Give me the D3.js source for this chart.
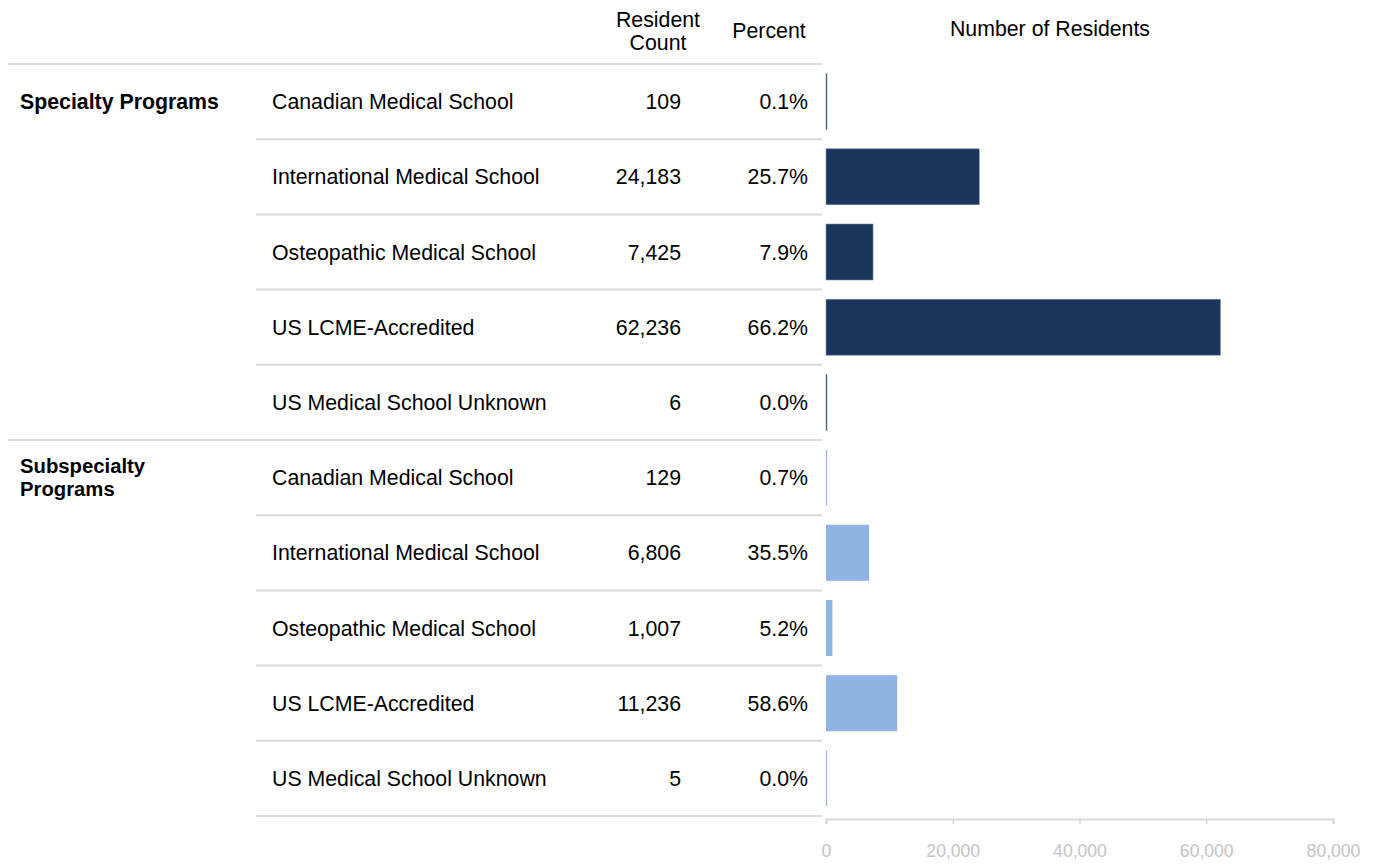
<!DOCTYPE html>
<html>
<head>
<meta charset="utf-8">
<script src="https://cdn.jsdelivr.net/npm/d3@7"></script>
<style>
  html, body { margin: 0; padding: 0; background: #fff; }
  svg { display: block; font-family: "Liberation Sans", Arial, sans-serif; }
</style>
</head>
<body>
<svg id="chart" width="1374" height="865"></svg>
<script>
// Residents by medical school type, grouped by program kind
const groups = ["Specialty Programs", "Subspecialty Programs"];
const schools = [
  "Canadian Medical School",
  "International Medical School",
  "Osteopathic Medical School",
  "US LCME-Accredited",
  "US Medical School Unknown"
];
const specialtyCounts = [109, 24183, 7425, 62236, 6];
const specialtyPercents = ["0.1%", "25.7%", "7.9%", "66.2%", "0.0%"];
const subspecialtyCounts = [129, 6806, 1007, 11236, 5];
const subspecialtyPercents = ["0.7%", "35.5%", "5.2%", "58.6%", "0.0%"];
const xTicks = [0, 20000, 40000, 60000, 80000];
const groupColors = ["#1b365d", "#8eb4e3"];

const rows = [];
[[specialtyCounts, specialtyPercents], [subspecialtyCounts, subspecialtyPercents]].forEach(([counts, pcts], g) => {
  schools.forEach((s, i) => rows.push({ group: g, school: s, count: counts[i], pct: pcts[i], first: i === 0, key: g + "|" + s }));
});

const svg = d3.select("#chart");
const fmt = d3.format(",");
const FS = 21.3;

const y = d3.scaleBand().domain(rows.map(d => d.key)).range([64, 816]).paddingInner(0).paddingOuter(0);
const x = d3.scaleLinear().domain([0, 80000]).range([826, 1333]);

// Column headers
const header = svg.append("g").attr("fill", "#000").attr("font-size", FS).attr("text-anchor", "middle");
header.append("text").attr("x", 658).attr("y", 26.5).text("Resident");
header.append("text").attr("x", 658).attr("y", 49.5).text("Count");
header.append("text").attr("x", 769).attr("y", 37.5).text("Percent");
header.append("text").attr("x", 1050).attr("y", 35.5).text("Number of Residents");

// Separator lines
const lines = svg.append("g").attr("stroke", "#d9d9d9").attr("stroke-width", 2);
lines.append("line").attr("x1", 8).attr("x2", 822).attr("y1", 64).attr("y2", 64);
rows.forEach((d, i) => {
  const yb = y(d.key) + y.bandwidth();
  const nextFirst = i + 1 < rows.length && rows[i + 1].first;
  lines.append("line")
    .attr("x1", nextFirst ? 8 : 256).attr("x2", 822)
    .attr("y1", yb).attr("y2", yb);
});

// Group labels
svg.append("g").selectAll("text")
  .data(rows.filter(d => d.first))
  .join("text")
  .attr("font-weight", "bold").attr("fill", "#000")
  .attr("x", 20)
  .each(function (d) {
    const t = d3.select(this);
    const words = groups[d.group].split(" ");
    const yc = y(d.key) + y.bandwidth() / 2;
    if (d.group === 0) {
      t.attr("font-size", FS).attr("y", yc + 7.5).text(groups[d.group]);
    } else {
      t.attr("font-size", 20.3);
      t.append("tspan").attr("x", 20).attr("y", yc - 5).text(words[0]);
      t.append("tspan").attr("x", 20).attr("y", yc + 18).text(words[1]);
    }
  });

// Row text: school, count, percent
const rowText = svg.append("g").attr("font-size", FS).attr("fill", "#000");
rows.forEach(d => {
  const yc = y(d.key) + y.bandwidth() / 2 + 7.5;
  rowText.append("text").attr("x", 272).attr("y", yc).text(d.school);
  rowText.append("text").attr("x", 681).attr("y", yc).attr("text-anchor", "end").text(fmt(d.count));
  rowText.append("text").attr("x", 808).attr("y", yc).attr("text-anchor", "end").text(d.pct);
});

// Bars
const barH = 56;
svg.append("g").selectAll("rect")
  .data(rows)
  .join("rect")
  .attr("x", x(0))
  .attr("y", d => y(d.key) + (y.bandwidth() - barH) / 2)
  .attr("width", d => Math.max(1, x(d.count) - x(0)))
  .attr("height", barH)
  .attr("fill", d => groupColors[d.group])
  .attr("stroke", d => d.group === 0 ? "#7f93b0" : "none")
  .attr("stroke-width", 0.6);

// Value axis
const axis = svg.append("g")
  .attr("transform", "translate(0,819)")
  .call(d3.axisBottom(x).tickValues(xTicks).tickFormat(fmt).tickSize(5).tickPadding(21));
axis.select(".domain").attr("stroke", "#d9d9d9").attr("stroke-width", 2);
axis.selectAll(".tick line").attr("stroke", "#d9d9d9").attr("stroke-width", 1.5);
axis.selectAll(".tick text").attr("fill", "#c4c4c4").attr("font-size", 17.6)
  .attr("font-family", "'Liberation Sans', Arial, sans-serif");
</script>
</body>
</html>
